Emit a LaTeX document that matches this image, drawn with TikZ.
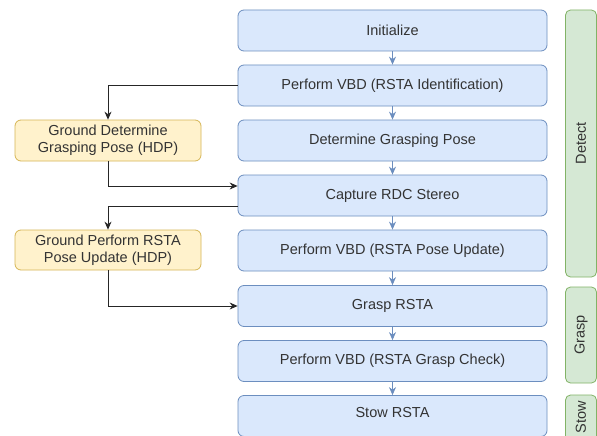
\documentclass[tikz,border=0pt]{standalone}
\usepackage{fontspec}
\setmainfont{Liberation Sans}
\usetikzlibrary{arrows.meta,positioning}
\definecolor{stepfill}{HTML}{DAE8FC}
\definecolor{stepline}{HTML}{6C8EBF}
\definecolor{gndfill}{HTML}{FFF2CC}
\definecolor{gndline}{HTML}{D6B656}
\definecolor{phasefill}{HTML}{D5E8D4}
\definecolor{phaseline}{HTML}{82B366}
\definecolor{txt}{HTML}{333333}
\tikzset{
  lbl/.style={text=txt, font=\fontsize{14.5}{17}\selectfont},
  stepbox/.style={lbl, draw=stepline, fill=stepfill, rounded corners=6pt, line width=0.8pt,
    minimum width=309pt, minimum height=41pt, inner sep=0pt},
  gndbox/.style={lbl, draw=gndline, fill=gndfill, rounded corners=6pt, line width=0.8pt,
    minimum width=186pt, minimum height=41pt, align=center,
    font=\fontsize{14.5}{17.5}\selectfont, inner sep=0pt},
  phasebox/.style={draw=phaseline, fill=phasefill, rounded corners=5pt, line width=0.8pt,
    minimum width=31pt, inner sep=0pt},
  flow/.style={draw=stepline, line width=0.8pt, -{Stealth[length=8pt,width=7pt]}},
  side/.style={draw=black!85, line width=0.8pt, -{Stealth[length=8pt,width=7pt]}},
}
\begin{document}
\begin{tikzpicture}[x=1pt,y=-1pt]
\useasboundingbox (0,0) rectangle (597,436);
\clip (0,0) rectangle (597,436);
\fill[white] (0,0) rectangle (597,436);

% main sequence
\node[stepbox] (init) at (392.5,30.5) {Initialize};
\node[stepbox] (vbdid) at (392.5,85.5) {Perform VBD (RSTA Identification)};
\node[stepbox] (pose) at (392.5,140.5) {Determine Grasping Pose};
\node[stepbox] (rdc) at (392.5,195.5) {Capture RDC Stereo};
\node[stepbox] (vbdpose) at (392.5,250.5) {Perform VBD (RSTA Pose Update)};
\node[stepbox] (grasp) at (392.5,306) {Grasp RSTA};
\node[stepbox] (vbdcheck) at (392.5,361) {Perform VBD (RSTA Grasp Check)};
\node[stepbox] (stow) at (392.5,416) {};
\node[lbl] at (392.5,413) {Stow RSTA};

% ground (HDP) steps
\node[gndbox] (gpose) at (108,140.5) {Ground Determine\\Grasping Pose (HDP)};
\node[gndbox, minimum height=40pt] (gupd) at (108,250) {Ground Perform RSTA\\Pose Update (HDP)};

% phase bars
\node[phasebox, minimum height=267pt] (detect) at (581,143.5) {};
\node[lbl, rotate=90] at (detect.center) {Detect};
\node[phasebox, minimum height=96pt] (graspph) at (581,335) {};
\node[lbl, rotate=90] at (graspph.center) {Grasp};
\node[phasebox, minimum height=50pt] (stowph) at (581,420) {};
\node[lbl, rotate=90] at (581,417) {Stow};

% sequence arrows
\foreach \a/\b in {init/vbdid, vbdid/pose, pose/rdc, rdc/vbdpose, vbdpose/grasp, grasp/vbdcheck, vbdcheck/stow}
  \draw[flow] (\a.south) -- (\b.north);

% hand-offs to and from ground
\draw[side] (vbdid.west) -| (gpose.north);
\draw[side] (gpose.south) |- ([yshift=9.5pt]rdc.west);
\draw[side] ([yshift=-10.5pt]rdc.west) -| (gupd.north);
\draw[side] (gupd.south) |- (grasp.west);
\end{tikzpicture}
\end{document}
